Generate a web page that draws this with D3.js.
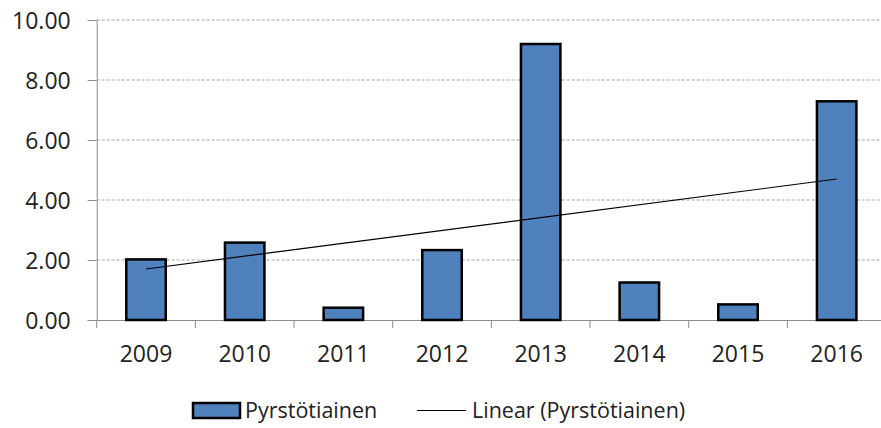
<!DOCTYPE html>
<html>
<head>
<meta charset="utf-8">
<script src="https://cdn.jsdelivr.net/npm/d3@7"></script>
<style>
  body { margin: 0; background: #fff; }
  svg text { font-family: "Open Sans", sans-serif; fill: #222; }
</style>
</head>
<body>
<div id="chart"></div>
<script>
// values
var years = ["2009", "2010", "2011", "2012", "2013", "2014", "2015", "2016"];
var values = [2.02, 2.58, 0.41, 2.33, 9.2, 1.25, 0.52, 7.29];
var yTicks = [0, 2, 4, 6, 8, 10];
var seriesName = "Pyrstötiainen";
var trendName = "Linear (Pyrstötiainen)";

var width = 881, height = 428;
var plotLeft = 96.7, plotRight = 886, plotTop = 20, plotBottom = 320;

var svg = d3.select("#chart").append("svg")
    .attr("width", width)
    .attr("height", height);

var x = d3.scaleBand()
    .domain(years)
    .range([plotLeft, plotRight])
    .paddingInner(0.6)
    .paddingOuter(0.3);

var y = d3.scaleLinear()
    .domain([0, 10])
    .range([plotBottom, plotTop]);

// gridlines
svg.append("g").selectAll("line")
    .data(yTicks.filter(function(d){ return d > 0; }))
    .enter().append("line")
    .attr("x1", plotLeft).attr("x2", plotRight)
    .attr("y1", function(d){ return y(d); })
    .attr("y2", function(d){ return y(d); })
    .style("stroke", "#a6a6a6")
    .style("stroke-width", 1)
    .style("stroke-dasharray", "3,2");

// y axis
var yAxis = svg.append("g")
    .attr("transform", "translate(" + plotLeft + ",0)")
    .call(d3.axisLeft(y).tickValues(yTicks).tickSize(9).tickPadding(17)
        .tickFormat(d3.format(".2f")));
yAxis.select(".domain").style("stroke", "#8c8c8c");
yAxis.selectAll(".tick line").style("stroke", "#8c8c8c");
yAxis.selectAll("text")
    .style("font-size", "23px")
    .attr("dy", "0.36em");

// x axis with ticks at category boundaries
var xAxisG = svg.append("g");
xAxisG.append("line")
    .attr("x1", plotLeft).attr("x2", plotRight)
    .attr("y1", plotBottom + 0.5).attr("y2", plotBottom + 0.5)
    .style("stroke", "#8c8c8c");
xAxisG.selectAll(".bnd")
    .data(d3.range(years.length + 1))
    .enter().append("line")
    .attr("class", "bnd")
    .attr("x1", function(i){ return plotLeft + i * x.step(); })
    .attr("x2", function(i){ return plotLeft + i * x.step(); })
    .attr("y1", plotBottom).attr("y2", plotBottom + 8)
    .style("stroke", "#8c8c8c");
xAxisG.selectAll("text")
    .data(years)
    .enter().append("text")
    .attr("x", function(d){ return x(d) + x.bandwidth() / 2; })
    .attr("y", 362)
    .attr("text-anchor", "middle")
    .style("font-size", "23px")
    .text(function(d){ return d; });

// bars
svg.append("g").selectAll("rect")
    .data(values)
    .enter().append("rect")
    .attr("x", function(d, i){ return x(years[i]); })
    .attr("y", function(d){ return y(d); })
    .attr("width", x.bandwidth())
    .attr("height", function(d){ return y(0) - y(d); })
    .style("fill", "#4f81bd")
    .style("stroke", "#000")
    .style("stroke-width", 2.5);

// linear trend line (least squares over the series)
var xs = d3.range(1, values.length + 1);
var mx = d3.mean(xs), my = d3.mean(values);
var slope = d3.sum(xs, function(v, i){ return (v - mx) * (values[i] - my); }) /
            d3.sum(xs, function(v){ return (v - mx) * (v - mx); });
var icpt = my - slope * mx;
var trend = [1, values.length].map(function(v){
    return { cat: years[v - 1], val: icpt + slope * v };
});
svg.append("path")
    .datum(trend)
    .attr("d", d3.line()
        .x(function(d){ return x(d.cat) + x.bandwidth() / 2; })
        .y(function(d){ return y(d.val); }))
    .style("fill", "none")
    .style("stroke", "#000")
    .style("stroke-width", 1.2);

// legend
var lg = svg.append("g");
lg.append("rect")
    .attr("x", 193).attr("y", 403)
    .attr("width", 47).attr("height", 15)
    .style("fill", "#4f81bd")
    .style("stroke", "#000")
    .style("stroke-width", 2.5);
lg.append("text")
    .attr("x", 245).attr("y", 418)
    .style("font-size", "21.5px")
    .text(seriesName);
lg.append("line")
    .attr("x1", 417).attr("x2", 466)
    .attr("y1", 410.5).attr("y2", 410.5)
    .style("stroke", "#000")
    .style("stroke-width", 1.2);
lg.append("text")
    .attr("x", 472).attr("y", 418)
    .style("font-size", "21.5px")
    .text(trendName);
</script>
</body>
</html>
